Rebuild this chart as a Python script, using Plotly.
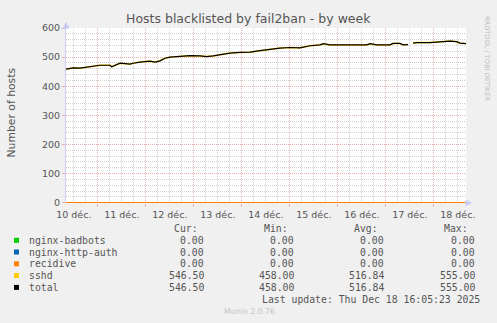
import plotly.graph_objects as go

# ---------------- data ----------------
times = [
    "2025-12-10 08:05", "2025-12-10 11:44", "2025-12-10 15:05", "2025-12-10 20:05",
    "2025-12-11 01:05", "2025-12-11 06:05", "2025-12-11 06:56", "2025-12-11 11:05",
    "2025-12-11 16:05", "2025-12-11 17:35", "2025-12-11 21:05", "2025-12-12 02:05",
    "2025-12-12 04:35", "2025-12-12 07:05", "2025-12-12 09:35", "2025-12-12 12:05",
    "2025-12-12 17:05", "2025-12-12 22:05", "2025-12-13 03:05", "2025-12-13 06:26",
    "2025-12-13 09:35", "2025-12-13 13:05", "2025-12-13 18:05", "2025-12-13 23:05",
    "2025-12-14 04:05", "2025-12-14 09:05", "2025-12-14 14:05", "2025-12-14 19:05",
    "2025-12-15 00:05", "2025-12-15 05:05", "2025-12-15 10:05", "2025-12-15 15:05",
    "2025-12-15 16:44", "2025-12-15 20:05", "2025-12-16 14:26", "2025-12-16 16:05",
    "2025-12-16 19:26", "2025-12-17 02:05", "2025-12-17 03:35", "2025-12-17 07:05",
    "2025-12-17 08:35", "2025-12-17 11:05", "2025-12-17 12:05", "2025-12-17 13:35",
    "2025-12-17 15:26", "2025-12-17 22:05", "2025-12-18 04:35", "2025-12-18 08:05",
    "2025-12-18 11:26", "2025-12-18 13:05", "2025-12-18 16:05",
]
sshd = [
    459, 463, 462, 467,
    472, 472, 467, 479,
    476, 479, 483, 486,
    483, 487, 496, 500,
    502, 505, 504, 502,
    504, 508, 514, 516,
    517, 522, 527, 531,
    533, 532, 539, 542,
    546, 542, 542, 546,
    542, 542, 547, 547,
    542, 543, None, 548,
    550, 550, 552, 555,
    553, 548, 546.5,
]
total = list(sshd)

zero_times = ["2025-12-10 08:05", "2025-12-18 16:05"]
nginx_badbots = [0, 0]
nginx_http_auth = [0, 0]
recidive = [0, 0]

series_names = ["nginx-badbots", "nginx-http-auth", "recidive", "sshd", "total"]
series_colors = ["#00CC00", "#0066B3", "#FF8000", "#FFCC00", "#000000"]
cur_vals = ["0.00", "0.00", "0.00", "546.50", "546.50"]
min_vals = ["0.00", "0.00", "0.00", "458.00", "458.00"]
avg_vals = ["0.00", "0.00", "0.00", "516.84", "516.84"]
max_vals = ["0.00", "0.00", "0.00", "555.00", "555.00"]

x_start = "2025-12-10 08:05"
x_end = "2025-12-18 16:05"

# ---------------- layout geometry ----------------
W_FIG, H_FIG = 497, 323
L, T, PW, PH = 66, 28, 400, 175
R = W_FIG - L - PW
B = H_FIG - T - PH


def px(x):
    return (x - L) / PW


def py(y):
    return (T + PH - y) / PH


fig = go.Figure()
zero_series = [nginx_badbots, nginx_http_auth, recidive]
for name, col, vals in zip(series_names[:3], series_colors[:3], zero_series):
    fig.add_trace(go.Scatter(x=zero_times, y=vals, mode="lines", name=name,
                             line=dict(color=col, width=1.2)))
fig.add_trace(go.Scatter(x=times, y=sshd, mode="lines", name="sshd",
                         line=dict(color=series_colors[3], width=1.5),
                         connectgaps=False))
fig.add_trace(go.Scatter(x=times, y=total, mode="lines", name="total",
                         line=dict(color=series_colors[4], width=1.2),
                         connectgaps=False))

GRID_MAJ = "#EBB0B0"
GRID_MIN = "#D2D2D2"
TICK_COL = "#555555"
FONT = "DejaVu Sans"
MONO = "DejaVu Sans Mono"

fig.update_layout(
    width=W_FIG, height=H_FIG,
    margin=dict(l=L, r=R, t=T, b=B, pad=0),
    paper_bgcolor="#F0F0F0",
    plot_bgcolor="#FFFFFF",
    showlegend=False,
    font=dict(family=FONT, size=9.5, color=TICK_COL),
    xaxis=dict(
        type="date", range=[x_start, x_end],
        tick0="2025-12-10", dtick=86400000,
        ticklabelmode="period", tickformat="%d déc.",
        showgrid=True, gridcolor=GRID_MAJ, gridwidth=1, griddash="1px,1px",
        ticks="outside", ticklen=3, tickcolor=GRID_MAJ,
        tickfont=dict(family=FONT, size=9.5, color=TICK_COL),
        showline=False, zeroline=False,
        minor=dict(dtick=6 * 3600 * 1000, tick0="2025-12-10", showgrid=True,
                   gridcolor=GRID_MIN, gridwidth=1, griddash="1px,1px"),
        fixedrange=True,
    ),
    yaxis=dict(
        range=[-1, 600], tick0=0, dtick=100,
        showgrid=True, gridcolor=GRID_MAJ, gridwidth=1, griddash="1px,1px",
        ticks="outside", ticklen=3, tickcolor=GRID_MAJ,
        tickfont=dict(family=FONT, size=9.5, color=TICK_COL),
        showline=True, linecolor="#CCCCF5", linewidth=1,
        zeroline=False,
        minor=dict(dtick=20, tick0=0, showgrid=True, gridcolor=GRID_MIN,
                   gridwidth=1, griddash="1px,1px"),
        fixedrange=True,
    ),
)

annotations = []
shapes = []

# title
annotations.append(dict(text="Hosts blacklisted by fail2ban - by week",
                        xref="paper", yref="paper", x=px(248.5), y=py(18.5),
                        xanchor="center", yanchor="middle", showarrow=False,
                        font=dict(family=FONT, size=12.5, color="#555555")))
# y-axis title
annotations.append(dict(text="Number of hosts", xref="paper", yref="paper",
                        x=px(10.5), y=py(112), textangle=-90,
                        xanchor="center", yanchor="middle", showarrow=False,
                        font=dict(family=FONT, size=10.8, color="#555555")))
# vertical credit
annotations.append(dict(text="RRDTOOL / TOBI OETIKER", xref="paper", yref="paper",
                        x=px(487.5), y=py(58.5), textangle=90,
                        xanchor="center", yanchor="middle", showarrow=False,
                        font=dict(family=FONT, size=6.6, color="#BDBDBD")))
# axis arrows
annotations.append(dict(x=0, y=1, xref="paper", yref="paper", text="",
                        showarrow=True, ax=0, ay=8, arrowhead=2, arrowsize=1.3,
                        arrowwidth=1, arrowcolor="#C8C8F5", yshift=6))
annotations.append(dict(x=1, y=0, xref="paper", yref="paper", text="",
                        showarrow=True, ax=-8, ay=0, arrowhead=2, arrowsize=1.3,
                        arrowwidth=1, arrowcolor="#C8C8F5", xshift=6))

# legend table
leg_font = dict(family=MONO, size=9.8, color="#555555")
header_y = 228.5
row_ys = [240.3, 252.0, 263.8, 275.6, 287.4]
col_right = [206, 296, 386, 476.5]
headers = ["Cur:", "Min:", "Avg:", "Max:"]
for hdr, xr in zip(headers, col_right):
    annotations.append(dict(text=hdr, xref="paper", yref="paper",
                            x=px(xr - 6.5), y=py(header_y), xanchor="right",
                            yanchor="middle", showarrow=False, font=leg_font))
for i, name in enumerate(series_names):
    yc = row_ys[i]
    shapes.append(dict(type="rect", xref="paper", yref="paper",
                       x0=px(14), x1=px(19), y0=py(yc + 2.5), y1=py(yc - 2.5),
                       fillcolor=series_colors[i], line=dict(width=0)))
    annotations.append(dict(text=name, xref="paper", yref="paper",
                            x=px(26.5), y=py(yc), xanchor="left", yanchor="middle",
                            showarrow=False, font=leg_font))
    for vals, xr in zip([cur_vals, min_vals, avg_vals, max_vals], col_right):
        annotations.append(dict(text=vals[i], xref="paper", yref="paper",
                                x=px(xr), y=py(yc), xanchor="right",
                                yanchor="middle", showarrow=False, font=leg_font))
annotations.append(dict(text="Last update: Thu Dec 18 16:05:23 2025",
                        xref="paper", yref="paper", x=px(481.8), y=py(299.2),
                        xanchor="right", yanchor="middle", showarrow=False,
                        font=leg_font))
annotations.append(dict(text="Munin 2.0.76", xref="paper", yref="paper",
                        x=px(249), y=py(311.5), xanchor="center", yanchor="middle",
                        showarrow=False,
                        font=dict(family=FONT, size=7.8, color="#C4C4C4")))

fig.update_layout(annotations=annotations, shapes=shapes)

fig.write_html("out.html")
